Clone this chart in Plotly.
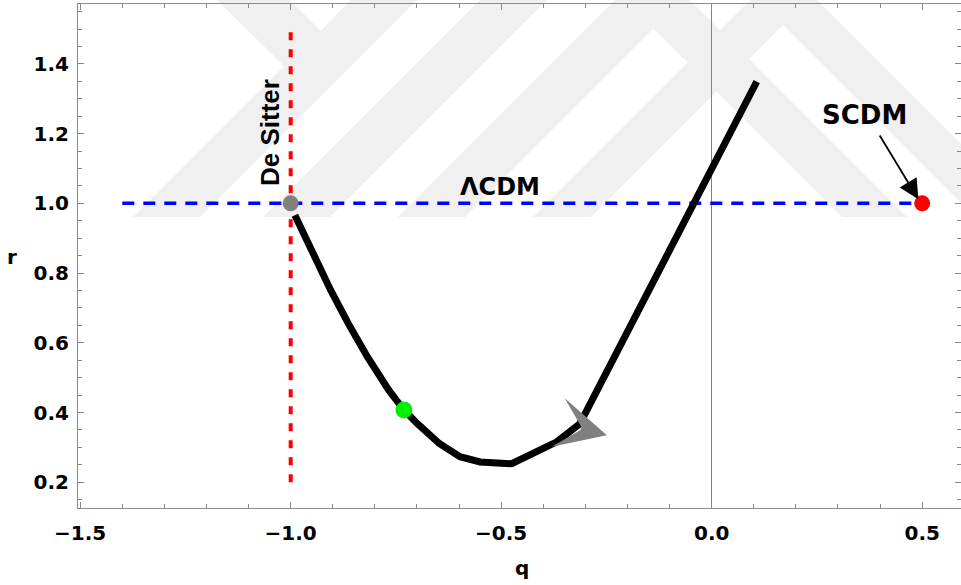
import plotly.graph_objects as go

# ---------------- data ----------------
curve_q = [-0.990, -0.945, -0.905, -0.863, -0.818, -0.767, -0.731, -0.699, -0.647,
           -0.598, -0.550, -0.475, -0.368, -0.313, 0.107]
curve_r = [0.966, 0.847, 0.751, 0.655, 0.560, 0.464, 0.407, 0.368, 0.311,
           0.273, 0.258, 0.253, 0.316, 0.368, 1.349]

lcdm_q = [-1.4, 0.5]
lcdm_r = [1.0, 1.0]

desitter_q = [-1.0, -1.0]
desitter_r = [0.2, 1.5]

desitter_pt_q = [-1.0]
desitter_pt_r = [1.0]

present_q = [-0.731]
present_r = [0.407]

scdm_q = [0.5]
scdm_r = [1.0]

# flow-direction arrow on the trajectory (tip and tail)
flow_tip_q, flow_tip_r = -0.249, 0.335
flow_tail_q, flow_tail_r = -0.3055, 0.353

# SCDM pointer (tip and tail)
scdm_tip_q, scdm_tip_r = 0.491, 1.0115
scdm_tail_q, scdm_tail_r = 0.397, 1.199

x_ticks = [-1.5, -1.0, -0.5, 0.0, 0.5]
y_ticks = [0.2, 0.4, 0.6, 0.8, 1.0, 1.2, 1.4]
x_range = [-1.5052, 0.5922]
y_range = [0.126, 1.572]

labels = {"desitter": "De Sitter", "lcdm": "ΛCDM", "scdm": "SCDM", "x": "q", "y": "r"}

# ---------------- layout geometry ----------------
W, H = 961, 585
ML, MR, MT, MB = 78, 0, 4, 77
PW, PH = W - ML - MR, H - MT - MB


def px2paper(px, py):
    return (px - ML) / PW, (H - MB - py) / PH


# faint background watermark (pixel polygons)
watermark = [
    [(217, 0), (290, 0), (321, 31), (350, 0), (417, 0), (200, 217), (133, 217), (284, 66)],
    [(480, 0), (547, 0), (330, 217), (263, 217)],
    [(615, 0), (682, 0), (465, 217), (398, 217)],
    [(750, 0), (808, 0), (591, 217), (533, 217)],
    [(625, 0), (690, 0), (907, 217), (842, 217)],
    [(758, 0), (817, 0), (1034, 217), (975, 217)],
]
shapes = []
for poly in watermark:
    pts = [px2paper(x, y) for x, y in poly]
    path = "M " + " L ".join(f"{a:.5f},{b:.5f}" for a, b in pts) + " Z"
    shapes.append(dict(type="path", xref="paper", yref="paper", path=path,
                       fillcolor="#f0f0f0", line=dict(width=0), layer="below"))

fig = go.Figure()

fig.add_trace(go.Scatter(x=lcdm_q, y=lcdm_r, mode="lines",
                         line=dict(color="#0000ff", width=3.5, dash="12px,9px"),
                         hoverinfo="skip"))
fig.add_trace(go.Scatter(x=desitter_q, y=desitter_r, mode="lines",
                         line=dict(color="#ff0000", width=4, dash="8px,9px"),
                         hoverinfo="skip"))
fig.add_trace(go.Scatter(x=curve_q, y=curve_r, mode="lines",
                         line=dict(color="black", width=7)))
fig.add_trace(go.Scatter(x=desitter_pt_q, y=desitter_pt_r, mode="markers",
                         marker=dict(color="#808080", size=16, line=dict(width=0))))
fig.add_trace(go.Scatter(x=present_q, y=present_r, mode="markers",
                         marker=dict(color="#00f000", size=17, line=dict(width=0))))
fig.add_trace(go.Scatter(x=scdm_q, y=scdm_r, mode="markers",
                         marker=dict(color="#ff0000", size=16, line=dict(width=0))))

bold_dv = lambda s: dict(family="DejaVu Sans", size=s, color="black", weight="bold")

annotations = [
    # flow arrowhead
    dict(x=flow_tip_q, y=flow_tip_r, ax=flow_tail_q, ay=flow_tail_r,
         xref="x", yref="y", axref="x", ayref="y", text="", showarrow=True,
         arrowhead=3, arrowsize=4.2, arrowwidth=2, arrowcolor="#808080"),
    # SCDM pointer
    dict(x=scdm_tip_q, y=scdm_tip_r, ax=scdm_tail_q, ay=scdm_tail_r,
         xref="x", yref="y", axref="x", ayref="y", text="", showarrow=True,
         arrowhead=2, arrowsize=2.2, arrowwidth=1.8, arrowcolor="black"),
    dict(x=0.362, y=1.2535, xref="x", yref="y", text=labels["scdm"], showarrow=False,
         xanchor="center", yanchor="middle", font=bold_dv(26)),
    dict(x=-0.503, y=1.0468, xref="x", yref="y", text=labels["lcdm"], showarrow=False,
         xanchor="center", yanchor="middle", font=bold_dv(24)),
    dict(x=-1.049, y=1.202, xref="x", yref="y", text=labels["desitter"], showarrow=False,
         textangle=-90, xanchor="center", yanchor="middle",
         font=dict(family="Liberation Sans", size=26, color="black", weight="bold")),
]
qx, qy = px2paper(522, 568)
rx, ry = px2paper(12, 257)
annotations.append(dict(x=qx, y=qy, xref="paper", yref="paper", text=labels["x"],
                        showarrow=False, xanchor="center", yanchor="middle",
                        font=bold_dv(20)))
annotations.append(dict(x=rx, y=ry, xref="paper", yref="paper", text=labels["y"],
                        showarrow=False, xanchor="center", yanchor="middle",
                        font=bold_dv(20)))

axis_common = dict(
    showgrid=False, showline=True, linecolor="#888888", linewidth=1, mirror="allticks",
    ticks="inside", ticklen=6, tickwidth=1, tickcolor="#888888",
    tickfont=bold_dv(20),
    tickformat=".1f",
)

fig.update_layout(
    width=W, height=H,
    margin=dict(l=ML, r=MR, t=MT, b=MB, pad=0),
    paper_bgcolor="white", plot_bgcolor="white",
    showlegend=False,
    shapes=shapes,
    annotations=annotations,
    xaxis=dict(range=x_range, tickvals=x_ticks, zeroline=True, zerolinecolor="#808080",
               zerolinewidth=1, ticklabelstandoff=7,
               minor=dict(ticks="inside", ticklen=4, dtick=0.1, tick0=0,
                          tickcolor="#888888", showgrid=False),
               **axis_common),
    yaxis=dict(range=y_range, tickvals=y_ticks, zeroline=False, ticklabelstandoff=4,
               minor=dict(ticks="inside", ticklen=4, dtick=0.05, tick0=0,
                          tickcolor="#888888", showgrid=False),
               **axis_common),
)

fig.write_html("out.html")
